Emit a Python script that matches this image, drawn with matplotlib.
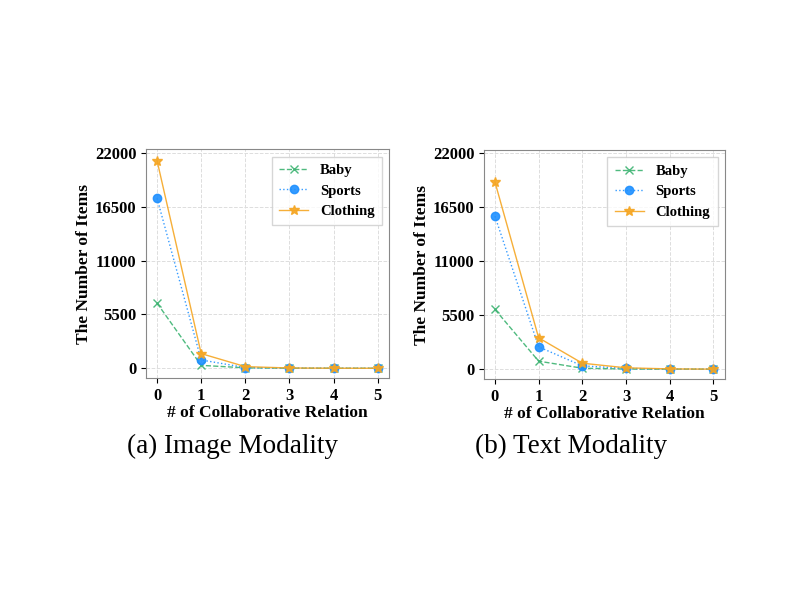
import matplotlib
matplotlib.use("Agg")
import matplotlib.pyplot as plt

x = [0, 1, 2, 3, 4, 5]
series_names = ["Baby", "Sports", "Clothing"]

image_baby = [6650, 300, 50, 10, 5, 2]
image_sports = [17350, 850, 80, 20, 8, 3]
image_clothing = [21200, 1500, 170, 30, 10, 4]

text_baby = [6100, 820, 100, 20, 6, 2]
text_sports = [15600, 2280, 340, 80, 15, 4]
text_clothing = [19100, 3200, 610, 140, 30, 6]

yticks = [0, 5500, 11000, 16500, 22000]
captions = ["(a) Image Modality", "(b) Text Modality"]

colors = ["#3cb371", "#1e90ff", "#f5a623"]
styles = ["--", ":", "-"]
markers = ["x", "o", "*"]
msizes = [6, 6, 7]

plt.rcParams["font.family"] = ["Liberation Serif", "DejaVu Serif"]

fig = plt.figure(figsize=(8, 6), dpi=100)
axes_pos = [[0.1825, 0.3695, 0.304, 0.3817], [0.605, 0.368, 0.301, 0.382]]
caption_x = [0.291, 0.714]
data = [[image_baby, image_sports, image_clothing],
        [text_baby, text_sports, text_clothing]]

for k in range(2):
    ax = fig.add_axes(axes_pos[k])
    for i in range(3):
        ax.plot(x, data[k][i], linestyle=styles[i], color=colors[i], marker=markers[i],
                markersize=msizes[i], linewidth=1.0, label=series_names[i], alpha=0.9)
    ax.set_ylim(-1020, 22350)
    ax.set_xlim(-0.25, 5.26)
    ax.set_yticks(yticks)
    ax.set_xticks(x)
    ax.grid(True, linestyle="--", color="#dddddd", linewidth=0.7)
    for s in ax.spines.values():
        s.set_color("#888888")
    for lab in ax.get_xticklabels() + ax.get_yticklabels():
        lab.set_fontweight("bold")
        lab.set_fontsize(12)
    ax.set_xlabel("# of Collaborative Relation", fontsize=12.5, fontweight="bold", labelpad=1)
    ax.set_ylabel("The Number of Items", fontsize=12.5, fontweight="bold", labelpad=2)
    ax.legend(loc="upper right", prop={"weight": "bold", "size": 10.5}, fancybox=False,
              edgecolor="#cccccc", handlelength=2.0, borderpad=0.5)
    fig.text(caption_x[k], 0.256, captions[k], ha="center", va="center", fontsize=19.5)

fig.savefig("out.png", dpi=100)
